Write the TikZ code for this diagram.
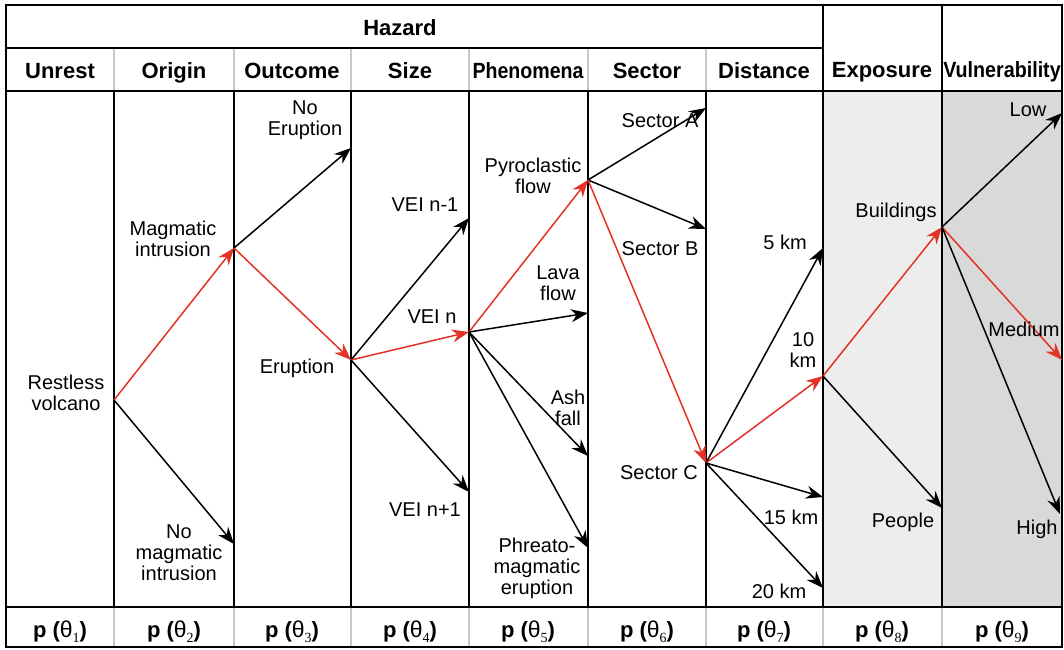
\documentclass[tikz,border=0pt]{standalone}
\usepackage{fontspec}
\setmainfont{Liberation Sans}
\newfontfamily\subserif{Liberation Serif}
\usetikzlibrary{arrows.meta}
\definecolor{hred}{RGB}{228,50,38}
\definecolor{expo}{RGB}{236,237,236}
\definecolor{vuln}{RGB}{217,217,217}
\definecolor{sepgrey}{RGB}{200,200,200}
\newcommand{\pth}[1]{{\bfseries p (}{\fontsize{23}{23}\selectfont θ}\raisebox{-5pt}{\fontsize{14}{14}\selectfont\subserif #1}{\bfseries )}}
\begin{document}
\begin{tikzpicture}[x=1pt,y=-1pt,
  lbl/.style={font=\fontsize{20}{21}\selectfont, align=center, inner sep=0pt},
  hdr/.style={font=\fontsize{22}{23}\selectfont\bfseries, inner sep=0pt, anchor=base},
  prow/.style={font=\fontsize{22}{23}\selectfont, inner sep=0pt, anchor=base},
  vline/.style={line width=1.5pt},
  hline/.style={line width=2pt},
  sep/.style={line width=1.5pt, draw=sepgrey},
  arr/.style={line width=1.5pt, -{Stealth[length=17pt,width=13pt]}},
  rarr/.style={arr, draw=hred, fill=hred}
]
\useasboundingbox (0,0) rectangle (1064,649);
% fills
\fill[expo] (823,91) rectangle (942,607);
\fill[vuln] (942,91) rectangle (1062,607);
% grey separators
\foreach \x in {114,234,351,469,588,706} \draw[sep] (\x,48) -- (\x,91);
\foreach \x in {114,234,351,469,588,706,823,942} \draw[sep] (\x,607) -- (\x,647);
% black verticals
\foreach \x in {114,234,351,469,588,706} \draw[vline] (\x,91) -- (\x,607);
\foreach \x in {823,942} \draw[vline] (\x,5) -- (\x,607);
% horizontals
\draw[hline] (6,48) -- (823,48);
\draw[hline] (6,91) -- (1062,91);
\draw[hline] (6,607) -- (1062,607);
\draw[hline] (6,5) rectangle (1062,647);
% headers
\node[hdr] (hHaz) at (400,35) {Hazard};
\node[hdr] (h1) at (60,78) {Unrest};
\node[hdr] (h2) at (174,78) {Origin};
\node[hdr] (h3) at (292,78) {Outcome};
\node[hdr] (h4) at (410,78) {Size};
\node[hdr] (h5) at (528,78) {\scalebox{0.89}[1]{Phenomena}};
\node[hdr] (h6) at (647,78) {Sector};
\node[hdr] (h7) at (764,78) {Distance};
\node[hdr] (h8) at (882,77) {Exposure};
\node[hdr] (h9) at (1002,77) {\scalebox{0.895}[1]{Vulnerability}};
% p row
\node[prow] (p1) at (60,637) {\pth{1}};
\node[prow] (p2) at (174,637) {\pth{2}};
\node[prow] (p3) at (292,637) {\pth{3}};
\node[prow] (p4) at (410,637) {\pth{4}};
\node[prow] (p5) at (528,637) {\pth{5}};
\node[prow] (p6) at (647,637) {\pth{6}};
\node[prow] (p7) at (764,637) {\pth{7}};
\node[prow] (p8) at (882,637) {\pth{8}};
\node[prow] (p9) at (1002,637) {\pth{9}};
% branch points
\coordinate (rv) at (114,400);
\coordinate (mi) at (234,248);
\coordinate (nmi) at (234,544);
\coordinate (ne) at (351,148);
\coordinate (er) at (351,360);
\coordinate (vm) at (469,218);
\coordinate (vn) at (469,332);
\coordinate (vp) at (469,492);
\coordinate (pf) at (588,180);
\coordinate (lf) at (588,313);
\coordinate (af) at (588,456);
\coordinate (pm) at (588,548);
\coordinate (sa) at (706,108);
\coordinate (sb) at (706,229);
\coordinate (sc) at (706,463);
\coordinate (d5) at (823,248);
\coordinate (d10) at (823,376);
\coordinate (d15) at (823,497);
\coordinate (d20) at (823,588);
\coordinate (bu) at (942,227);
\coordinate (pe) at (942,508);
\coordinate (lo) at (1062,113);
\coordinate (me) at (1062,360);
\coordinate (hi) at (1060,514);
% arrows
\draw[rarr] (rv) -- (mi);
\draw[arr] (rv) -- (nmi);
\draw[arr] (mi) -- (ne);
\draw[rarr] (mi) -- (er);
\draw[arr] (er) -- (vm);
\draw[rarr] (er) -- (vn);
\draw[arr] (er) -- (vp);
\draw[rarr] (vn) -- (pf);
\draw[arr] (vn) -- (lf);
\draw[arr] (vn) -- (af);
\draw[arr] (vn) -- (pm);
\draw[arr] (pf) -- (sa);
\draw[arr] (pf) -- (sb);
\draw[rarr] (pf) -- (sc);
\draw[arr] (sc) -- (d5);
\draw[rarr] (sc) -- (d10);
\draw[arr] (sc) -- (d15);
\draw[arr] (sc) -- (d20);
\draw[rarr] (d10) -- (bu);
\draw[arr] (d10) -- (pe);
\draw[arr] (bu) -- (lo);
\draw[rarr] (bu) -- (me);
\draw[arr] (bu) -- (hi);
% labels
\node[lbl] (trv) at (66,393) {Restless\\volcano};
\node[lbl] (tmi) at (173,239) {Magmatic\\intrusion};
\node[lbl] (tnmi) at (179,553) {No\\magmatic\\intrusion};
\node[lbl] (tne) at (305,120) {No\\Eruption};
\node[lbl] (ter) at (297,368) {Eruption};
\node[lbl] (tvm) at (425,205) {VEI n-1};
\node[lbl] (tvn) at (432,317) {VEI n};
\node[lbl] (tvp) at (425,510) {VEI n+1};
\node[lbl] (tpf) at (533,176) {Pyroclastic\\flow};
\node[lbl] (tlf) at (558,283) {Lava\\flow};
\node[lbl] (taf) at (568,408) {Ash\\fall};
\node[lbl] (tpm) at (537,568) {Phreato-\\magmatic\\eruption};
\node[lbl] (tsa) at (660,121) {Sector A};
\node[lbl] (tsb) at (660,249) {Sector B};
\node[lbl] (tsc) at (659,473) {Sector C};
\node[lbl] (td5) at (785,242) {5 km};
\node[lbl] (td10) at (803,350) {10\\km};
\node[lbl] (td15) at (791,517) {15 km};
\node[lbl] (td20) at (779,591) {20 km};
\node[lbl] (tbu) at (896,212) {Buildings};
\node[lbl] (tpe) at (903,522) {People};
\node[lbl] (tlo) at (1028,110) {Low};
\node[lbl] (tme) at (1024,329) {Medium};
\node[lbl] (thi) at (1037,529) {High};
\end{tikzpicture}
\end{document}
